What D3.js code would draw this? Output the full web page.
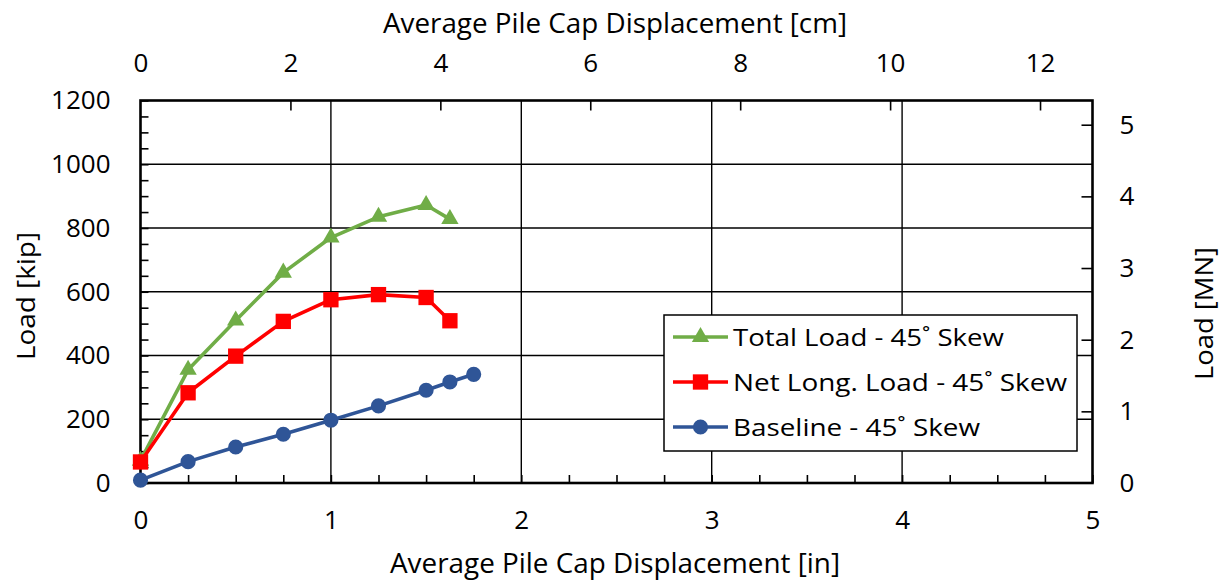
<!DOCTYPE html>
<html><head><meta charset="utf-8">
<script src="https://cdn.jsdelivr.net/npm/d3@7"></script>
<style>body{margin:0;background:#fff}svg{display:block}text{font-family:"Open Sans",sans-serif;fill:#000}</style>
</head><body>
<svg id="c" width="1221" height="583"></svg>
<script>
const xIn = [0, 0.25, 0.5, 0.75, 1.0, 1.25, 1.5, 1.625, 1.75];
const totalLoad = [70, 355, 510, 660, 770, 835, 872, 828];
const netLoad = [66, 283, 398, 507, 575, 591, 582, 509];
const baseline = [9, 67, 113, 153, 197, 242, 291, 317, 341];
const seriesNames = ["Total Load - 45˚ Skew", "Net Long. Load - 45˚ Skew", "Baseline - 45˚ Skew"];
const seriesColors = ["#70AD47", "#FF0000", "#2F5597"];
const bottomTicks = [0, 1, 2, 3, 4, 5];
const topTicks = [0, 2, 4, 6, 8, 10, 12];
const leftTicks = [0, 200, 400, 600, 800, 1000, 1200];
const rightTicks = [0, 1, 2, 3, 4, 5];

const svg = d3.select("#c");
const L = 140.5, R = 1092.5, T = 100.5, B = 483;
const x = d3.scaleLinear().domain([0, 5]).range([L, R]);
const xcm = d3.scaleLinear().domain([0, 5 * 2.54]).range([L, R]);
const y = d3.scaleLinear().domain([0, 1200]).range([B, T]);
const yMN = d3.scaleLinear().domain([0, 1200 * 0.0044482216]).range([B, T]);

// grid
const g = svg.append("g");
g.selectAll(".hg").data(leftTicks.slice(1, -1)).join("line")
  .attr("x1", L).attr("x2", R).attr("y1", d => y(d)).attr("y2", d => y(d))
  .attr("stroke", "#000").attr("stroke-width", 1.4);
g.selectAll(".vg").data(bottomTicks.slice(1, -1)).join("line")
  .attr("y1", T).attr("y2", B).attr("x1", d => x(d)).attr("x2", d => x(d))
  .attr("stroke", "#000").attr("stroke-width", 1.4);

// axes with inward ticks
const axB = svg.append("g").attr("transform", `translate(0,${B})`)
  .call(d3.axisTop(x).tickValues(d3.range(0, 5.001, 0.25)).tickSize(8).tickFormat(""));
const axBl = svg.append("g").attr("transform", `translate(0,${B})`)
  .call(d3.axisBottom(x).tickValues(bottomTicks).tickSize(0).tickPadding(28).tickFormat(d3.format("d")));
const axT = svg.append("g").attr("transform", `translate(0,${T})`)
  .call(d3.axisBottom(xcm).tickValues(topTicks.slice(1)).tickSize(10).tickFormat(""));
const axTl = svg.append("g").attr("transform", `translate(0,${T})`)
  .call(d3.axisTop(xcm).tickValues(topTicks).tickSize(0).tickPadding(29).tickFormat(d3.format("d")));
const axL = svg.append("g").attr("transform", `translate(${L},0)`)
  .call(d3.axisRight(y).tickValues(d3.range(0, 1201, 50)).tickSize(8).tickFormat(""));
const axLl = svg.append("g").attr("transform", `translate(${L},0)`)
  .call(d3.axisLeft(y).tickValues(leftTicks).tickSize(0).tickPadding(30).tickFormat(d3.format("d")));
const axR = svg.append("g").attr("transform", `translate(${R},0)`)
  .call(d3.axisLeft(yMN).tickValues(rightTicks.slice(1)).tickSize(11).tickFormat(""));
const axRl = svg.append("g").attr("transform", `translate(${R},0)`)
  .call(d3.axisRight(yMN).tickValues(rightTicks).tickSize(0).tickPadding(27).tickFormat(d3.format("d")));
[axB, axBl, axT, axTl, axL, axLl, axR, axRl].forEach(a => {
  a.select(".domain").remove();
  a.selectAll(".tick line").attr("stroke", "#000").attr("stroke-width", 1.6);
  a.selectAll("text").style("font-size", "26px").attr("fill", "#000").style("font-family", '"Open Sans",sans-serif');
});
// border
svg.append("rect").attr("x", L).attr("y", T).attr("width", R - L).attr("height", B - T)
  .attr("fill", "none").attr("stroke", "#000").attr("stroke-width", 2.6);

// series
const data = [
  xIn.slice(0, totalLoad.length).map((d, i) => [d, totalLoad[i]]),
  xIn.slice(0, netLoad.length).map((d, i) => [d, netLoad[i]]),
  xIn.slice(0, baseline.length).map((d, i) => [d, baseline[i]])
];
const line = d3.line().x(d => x(d[0])).y(d => y(d[1]));
const symbols = [d3.symbolTriangle, d3.symbolSquare, d3.symbolCircle];
const symSizes = [130, 235, 180];
const order = [2, 0, 1];
order.forEach(k => {
  svg.append("path").datum(data[k]).attr("d", line).attr("fill", "none")
    .attr("stroke", seriesColors[k]).attr("stroke-width", 3.6).attr("stroke-linejoin", "round");
  svg.selectAll(null).data(data[k]).join("path")
    .attr("transform", d => `translate(${x(d[0])},${y(d[1])})`)
    .attr("d", d3.symbol().type(symbols[k]).size(symSizes[k]))
    .attr("fill", seriesColors[k]);
});

// legend
const lg = svg.append("g");
lg.append("rect").attr("x", 664).attr("y", 315).attr("width", 413).attr("height", 136)
  .attr("fill", "#fff").attr("stroke", "#000").attr("stroke-width", 1.5);
const rowY = [337, 382, 427];
const legendLen = [271, 334, 247];
seriesNames.forEach((n, k) => {
  lg.append("line").attr("x1", 673).attr("x2", 728).attr("y1", rowY[k]).attr("y2", rowY[k])
    .attr("stroke", seriesColors[k]).attr("stroke-width", 3.6);
  lg.append("path").attr("transform", `translate(700.5,${rowY[k]})`)
    .attr("d", d3.symbol().type(symbols[k]).size(symSizes[k])).attr("fill", seriesColors[k]);
  lg.append("text").attr("x", 733).attr("y", rowY[k]).attr("dy", "0.36em")
    .attr("textLength", legendLen[k]).attr("lengthAdjust", "spacingAndGlyphs")
    .style("font-size", "24px").text(n);
});

// titles
svg.append("text").attr("x", 383).attr("y", 33)
  .attr("textLength", 464).attr("lengthAdjust", "spacingAndGlyphs")
  .style("font-size", "27px").text("Average Pile Cap Displacement [cm]");
svg.append("text").attr("x", 390).attr("y", 573)
  .attr("textLength", 450).attr("lengthAdjust", "spacingAndGlyphs")
  .style("font-size", "27px").text("Average Pile Cap Displacement [in]");
svg.append("text").attr("transform", "translate(35,360) rotate(-90)")
  .attr("textLength", 128).attr("lengthAdjust", "spacingAndGlyphs")
  .style("font-size", "26px").text("Load [kip]");
svg.append("text").attr("transform", "translate(1213,380) rotate(-90)")
  .attr("textLength", 133).attr("lengthAdjust", "spacingAndGlyphs")
  .style("font-size", "26px").text("Load [MN]");
</script>
</body></html>
